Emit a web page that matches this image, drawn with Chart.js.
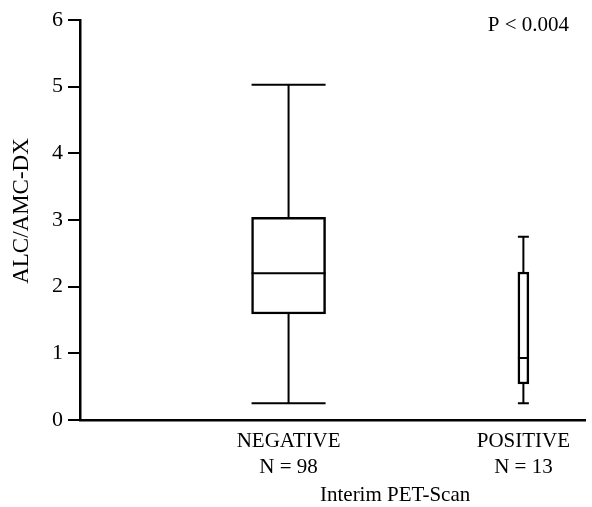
<!DOCTYPE html>
<html>
<head>
<meta charset="utf-8">
<script src="https://cdn.jsdelivr.net/npm/chart.js@4"></script>
<style>
  html, body { margin: 0; padding: 0; background: #fff; }
  #wrap { width: 592px; height: 507px; }
</style>
</head>
<body>
<div id="wrap"><canvas id="myChart"></canvas></div>
<script>
// podaci sa slike
const groups = ['NEGATIVE', 'POSITIVE'];
const counts = [98, 13];
const mins = [0.25, 0.25];
const q1s = [1.59, 0.54];
const medians = [2.2, 0.93];
const q3s = [3.04, 2.22];
const maxs = [5.03, 2.75];
const pValue = 'P < 0.004';
const xTitle = 'Interim PET-Scan';
const yTitle = 'ALC/AMC-DX';

// raspored grupa na x osi (0-100)
const groupPos = [41.3, 87.8];
const boxWidths = [74, 11];

const canvas = document.getElementById('myChart');
const serif = '"Liberation Serif", "DejaVu Serif", serif';

// brkovi, medijana i tekstovi
const boxPlugin = {
    id: 'boxExtras',
    afterDatasetsDraw(chart) {
        const ctx = chart.ctx;
        const y = chart.scales.y;
        const x = chart.scales.x;
        ctx.save();
        ctx.strokeStyle = '#000';
        chart.data.datasets.forEach((ds, i) => {
            const el = chart.getDatasetMeta(i).data[0];
            const cx = el.x;
            const half = el.width / 2;
            const yMin = y.getPixelForValue(mins[i]);
            const yMax = y.getPixelForValue(maxs[i]);
            const yQ1 = y.getPixelForValue(q1s[i]);
            const yQ3 = y.getPixelForValue(q3s[i]);
            const yMed = y.getPixelForValue(medians[i]);
            ctx.lineWidth = 2;
            ctx.beginPath();
            ctx.moveTo(cx, yQ3); ctx.lineTo(cx, yMax);
            ctx.moveTo(cx, yQ1); ctx.lineTo(cx, yMin);
            ctx.moveTo(cx - half, yMax); ctx.lineTo(cx + half, yMax);
            ctx.moveTo(cx - half, yMin); ctx.lineTo(cx + half, yMin);
            ctx.moveTo(cx - half, yMed); ctx.lineTo(cx + half, yMed);
            ctx.stroke();
        });
        ctx.fillStyle = '#000';
        ctx.textBaseline = 'middle';
        ctx.textAlign = 'center';
        ctx.font = '21px ' + serif;
        ctx.fillText(xTitle, x.getPixelForValue(62.4), 495);
        ctx.textAlign = 'right';
        ctx.fillText(pValue, chart.chartArea.right - 16, 25);
        // naslov y ose
        ctx.save();
        ctx.translate(22, 211);
        ctx.rotate(-Math.PI / 2);
        ctx.textAlign = 'center';
        ctx.font = '23px ' + serif;
        ctx.fillText(yTitle, 0, 0);
        ctx.restore();
        ctx.restore();
    }
};

const datasets = groups.map((g, i) => ({
    label: g,
    data: [{ x: groupPos[i], y: [q1s[i], q3s[i]] }],
    backgroundColor: '#fff',
    borderColor: '#000',
    borderWidth: 2.5,
    borderSkipped: false,
    barThickness: boxWidths[i],
    grouped: false
}));

const myChart = new Chart(canvas, {
    type: 'bar',
    data: { datasets: datasets },
    options: {
        responsive: true,
        maintainAspectRatio: false,
        animation: false,
        layout: { padding: { top: 20, right: 7, left: 0, bottom: 0 } },
        plugins: {
            legend: { display: false },
            tooltip: { enabled: false }
        },
        scales: {
            x: {
                type: 'linear',
                min: 0,
                max: 100,
                offset: false,
                afterBuildTicks: (scale) => {
                    scale.ticks = groupPos.map(v => ({ value: v }));
                },
                afterFit: (scale) => { scale.height = 87; },
                ticks: {
                    color: '#000',
                    font: { family: serif, size: 21, lineHeight: 1.25 },
                    padding: 0,
                    maxRotation: 0,
                    autoSkip: false,
                    callback: function (value) {
                        const i = groupPos.indexOf(value);
                        return i < 0 ? '' : [groups[i], 'N = ' + counts[i]];
                    }
                },
                grid: { display: false },
                border: { display: true, color: '#000', width: 2.5 }
            },
            y: {
                min: 0,
                max: 6,
                afterFit: (scale) => { scale.width = 80; },
                ticks: {
                    stepSize: 1,
                    color: '#000',
                    font: { family: serif, size: 22 },
                    padding: 5
                },
                grid: {
                    drawOnChartArea: false,
                    drawTicks: true,
                    tickLength: 12,
                    color: '#000',
                    lineWidth: 2
                },
                border: { display: true, color: '#000', width: 2.5 }
            }
        }
    },
    plugins: [boxPlugin]
});
</script>
</body>
</html>
